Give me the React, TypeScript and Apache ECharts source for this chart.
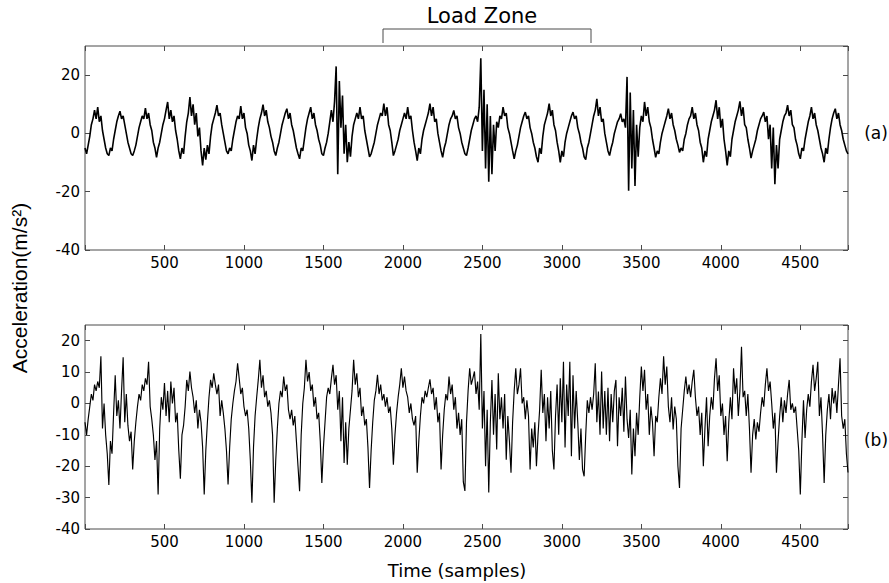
import React, { useEffect, useRef } from "react";
import * as echarts from "echarts";

// spacing (in samples) between the listed readings
const sampleStep = 10;

// Panel (a): acceleration readings, one every 10 samples from 0 to 4800
const accelA: number[] = [
  -5, -7, -4, -1, 3, 5, 8, 5, 9, 4, 6, 1, -2, -5, -7,
  -7.6, -5, -6, -2, 1, 4, 6, 7.6, 5, 6, 3, 0, -3, -5, -7,
  -7.6, -6, -4, -1, 2, 4, 6, 5, 8.7, 5, 7, 3, 1, -3, -5,
  -8.2, -5, -3, 0, 3, 5, 8, 10.8, 5, 8, 4, 6, 1, -2, -6,
  -8.7, -5, -7, -1, 4, 7, 12.5, 6, 10, 3, 7, -1, 2, -6, -11,
  -5, -9, -4, -7, -1, 3, 5, 7, 9.7, 6, 7, 3, 0, -3, -6,
  -7, -5, -6, -2, 1, 4, 6, 5, 9.4, 5, 7, 2, 0, -4, -6,
  -9.3, -4, -7, -2, 2, 5, 7, 9.9, 6, 8, 4, 2, -1, -3, -6,
  -7.6, -5, -3, 0, 3, 5, 7, 8.5, 5, 7, 3, 1, -2, -5, -7,
  -8.7, -5, -6, -2, 2, 5, 7, 9, 5, 7, 3, 1, -2, -4, -7,
  -7.6, -5, -3, 0, 4, 8, 4, 11, 23, -14, 18, 2, 13, -7, 3,
  -9.9, -3, -8, -1, 3, 5, 7, 5, 9, 5, 6, 1, -2, -5, -8,
  -7, -5, -3, 0, 3, 5, 7, 6, 10.2, 6, 9, 3, 1, -3, -7.6,
  -6, -4, -2, 1, 3, 5, 7, 5, 9, 5, 6, 1, -3, -6, -9.3,
  -5, -7, -2, 1, 3, 5, 7, 10.2, 6, 9, 4, 5, 0, -3, -6,
  -8.2, -5, -3, 0, 3, 5, 6, 7.9, 5, 6, 2, 0, -3, -5, -7,
  -7.6, -5, -2, 1, 3, 5, 6, 4, 9, 25.8, -6, 15, -12, 10, -16.6,
  6, -14, 3, -6, 4, 2, 6, 5, 9, 6, 7, 2, 0, -3, -6,
  -8.7, -6, -4, -1, 2, 4, 6, 7.3, 5, 6, 2, 0, -3, -5, -8,
  -9.9, -5, -7, -1, 3, 5, 7, 10.2, 6, 8, 3, 1, -3, -6, -9.9,
  -6, -8, -3, 0, 2, 4, 6, 7.3, 5, 6, 2, 0, -3, -5, -8,
  -9, -5, -3, 0, 3, 6, 8, 11.9, 6, 9, 4, 5, 0, -3, -6,
  -7.6, -5, -3, 0, 2, 4, 5, 6.8, 4, 5, 2, 19.4, -19.7, 14, -12,
  8, -18, 3, -8, 2, 6, 4, 10.8, 6, 9, 4, 2, -2, -5, -8.2,
  -6, -7, -3, 0, 2, 4, 6, 8.5, 5, 7, 3, 1, -2, -4, -6.5,
  -5, -6, -2, 0, 3, 5, 6, 9, 5, 7, 3, 1, -3, -5, -9.9,
  -6, -8, -2, 1, 4, 6, 8, 11.4, 5, 9, 2, 5, -2, -6, -11,
  -6, -8, -2, 1, 4, 6, 8, 11, 6, 9, 3, 2, -2, -5, -8.5,
  -6, -4, -2, 1, 3, 5, 6, 7.3, 4, 6, -2, 3, -12, 2, -17.4,
  -4, -12, -2, 1, 4, 6, 7, 9.7, 6, 8, 3, 2, -2, -4, -7,
  -8.7, -5, -6, -2, 1, 4, 6, 9, 5, 7, 3, 1, -2, -5, -7,
  -9.9, -5, -7, -2, 2, 5, 7, 8.5, 5, 7, 3, 1, -2, -4, -6,
  -7,
];

// Panel (b): acceleration readings, one every 10 samples from 0 to 4800
const accelB: number[] = [
  -6, -10, -5, -1, 3, 1, 6, 4, 7, 5, 15, -8, 0, -10, -16,
  -26, -12, -16, -3, 9, -4, 1, -8, 4, 14.7, -6, 3, -7, -12, -9,
  -21, -12, -6, -1, 3, 1, 6, 4, 8, 6, 13.3, -1, -5, -10, -18,
  -12, -29, -8, 2, -2, 6.5, -4, 4, -6, 7, 0, 5, -6, -3, -15,
  -24, -10, -7, -1, 7.5, 4, 10.2, 5, 2, -3, 1, -8, -2, -6, -14,
  -29, -15, -6, 2, 7.5, 5, 9.6, 6, 3, 6, -4, 1, -3, -8, -15,
  -25.8, -14, -5, 0, 4, 7, 12.8, 8, 3, 5, -1, -4, -2, -8, -18,
  -31.6, -14, -4, 2, 7.5, 13.9, 5, 9, 2, 4, -1, 1, -3, -10, -31.6,
  -18, -8, 0, 4, 2, 8.6, 4, 6, -2, -5, -2, -7, -4, -12, -20,
  -28, -10, 0, 5, 13.9, 7, 10, 4, 6, -1, 2, -5, -3, -12, -25.3,
  -14, -6, 2, 5, 3, 8, 12.3, 6, 9, -2, 4, -12, 2, -19, -6,
  -19.5, -8, -2, 4, 13.9, 6, 9.6, 2, 5, -4, -1, -7, -5, -14, -26.9,
  -15, -6, 1, 4, 9.1, 3, 6, 1, 3, -1, 2, -3, -1, -8, -19.5,
  -10, -3, 2, 6, 11.2, 5, 8.6, 4, 2, -3, 0, -5, -7, -4, -22.1,
  -12, -4, 2, 0, 4, 2, 5, 7.7, 3, 5, -2, 2, -6, -3, -21,
  -10, -2, 3, 1, 8.6, 3, 6, -2, 2, -8, -3, -10, -5, -25, -27.9,
  -6, 4, 11.2, 6, 8, 10.2, 3, 7, -2, 22.1, -8, 4, -20, -2, -28.4,
  -6, 7.5, -10, 3, -14.7, 9.6, -5, 2, -8, 3, -17.9, -4, -12, -22.1, -6,
  4, 11.2, 3, 6, 11.2, 0, 2, -5, 1, -4, -21, -8, -14, -6, -20,
  -10, -2, 10.7, -3, 3, -12, 2, -8, 4, -15, -21, -4, 6, -10, 8,
  -6, 13.3, -14, 6, -4, 13.3, -16.8, 9, -8, 4, -6, -18, -8, -21, -23.2,
  -10, 1, -3, 2, -2, 3, 12.8, -6, 3.8, -10, 10.2, -8, 4, -10, 5,
  -12, 3, -6, 4, 7.5, -13.6, 2, -4, 5, -9, 8.6, -5, -11, -2, -22.6,
  -8, -16.8, -3, -10, 2, 11.8, 4, 10.7, -2, 3, -10, -1, -6, -16.8, -4,
  -6, 2, 8, 3, 15, 6, 11.8, -1, -6, 2, -8.3, -1, -5, -20, -26.9,
  -8, -2, 4, 8.6, 3, 6, 2, 7, 10.7, 2, -4, -1, -10, -3, -20,
  -8, 2, -13.6, -4, 2, -2, 8, 14.4, 4, 9, -4, 0, -10, -4, -18.4,
  -6, 2, -5, 11.2, 3, 8, -4, 4, 18.1, 2, 4, -4, 3, -8, -22.1,
  -10, -5, -11.5, -6, -9, -3, 2, -1, 6, 11.2, 4, 7, 0, -8, -3,
  -22.1, -12, -4, 2, -6, 1, -3, 3, 7.5, -2, 0, -3, -1, -8, -15,
  -29, -12, 1, -11, -2, 3, -1, 7, 12.3, 4, 8, 13.3, -4, 2, -10,
  -25.3, -10, -2, 3, -5, 4.9, 0, 4, -3, 6, 14.4, -4, -8, -5, -16,
  -22,
];

const xMin = 0;
const xMax = 4800;
const xInterval = 500;
const yRangeA = { min: -40, max: 30, interval: 20 };
const yRangeB = { min: -40, max: 25, interval: 10 };

const tickFont = "DejaVu Sans";
const frameColor = "#4a4a4a";

export default function App() {
  const ref = useRef<HTMLDivElement>(null);

  useEffect(() => {
    if (!ref.current) return;
    const chart = echarts.init(ref.current, null, { renderer: "svg" });

    const toPairs = (arr: number[]) => arr.map((v, i) => [i * sampleStep, v]);

    const xLabelFmt = (v: number) =>
      v > xMin && v < xMax && v % xInterval === 0 ? String(v) : "";

    const baseTick = { show: true, inside: true, length: 5, lineStyle: { color: frameColor, width: 1 } };

    const makeX = (gridIndex: number, position: "top" | "bottom", labels: boolean) => ({
      type: "value",
      gridIndex,
      position,
      min: xMin,
      max: xMax,
      interval: xInterval,
      axisLine: { show: false, onZero: false },
      axisTick: baseTick,
      splitLine: { show: false },
      axisLabel: labels
        ? { show: true, color: "#000", fontFamily: tickFont, fontSize: 15, margin: 5, formatter: xLabelFmt }
        : { show: false },
    });

    const makeY = (gridIndex: number, position: "left" | "right", labels: boolean, r: any) => ({
      type: "value",
      gridIndex,
      position,
      min: r.min,
      max: r.max,
      interval: r.interval,
      axisLine: { show: false, onZero: false },
      axisTick: baseTick,
      splitLine: { show: false },
      axisLabel: labels
        ? { show: true, color: "#000", fontFamily: tickFont, fontSize: 15, margin: 5, showMaxLabel: false }
        : { show: false },
    });

    const option: any = {
      animation: false,
      backgroundColor: "#fff",
      grid: [
        { left: 85, top: 46, width: 763, height: 204, show: true, borderColor: frameColor, borderWidth: 1, backgroundColor: "transparent" },
        { left: 85, top: 325, width: 763, height: 204, show: true, borderColor: frameColor, borderWidth: 1, backgroundColor: "transparent" },
      ],
      xAxis: [
        makeX(0, "bottom", true),
        makeX(0, "top", false),
        makeX(1, "bottom", true),
        makeX(1, "top", false),
      ],
      yAxis: [
        makeY(0, "left", true, yRangeA),
        makeY(0, "right", false, yRangeA),
        makeY(1, "left", true, yRangeB),
        makeY(1, "right", false, yRangeB),
      ],
      series: [
        {
          type: "line",
          xAxisIndex: 0,
          yAxisIndex: 0,
          data: toPairs(accelA),
          showSymbol: false,
          silent: true,
          lineStyle: { color: "#000", width: 1.6 },
        },
        {
          type: "line",
          xAxisIndex: 2,
          yAxisIndex: 2,
          data: toPairs(accelB),
          showSymbol: false,
          silent: true,
          lineStyle: { color: "#000", width: 1.15 },
        },
      ],
      graphic: [
        {
          type: "polyline",
          shape: { points: [[383, 43], [383, 29], [591, 29], [591, 43]] },
          style: { stroke: frameColor, lineWidth: 1, fill: "none" },
          silent: true,
        },
        {
          type: "text",
          x: 482,
          y: 16,
          style: { text: "Load Zone", fontFamily: "DejaVu Sans", fontSize: 21, fill: "#000", align: "center", verticalAlign: "middle" },
        },
        {
          type: "text",
          x: 876,
          y: 133,
          style: { text: "(a)", fontFamily: "DejaVu Sans", fontSize: 17, fill: "#000", align: "center", verticalAlign: "middle" },
        },
        {
          type: "text",
          x: 876,
          y: 440,
          style: { text: "(b)", fontFamily: "DejaVu Sans", fontSize: 17, fill: "#000", align: "center", verticalAlign: "middle" },
        },
        {
          type: "text",
          x: 457,
          y: 570,
          style: { text: "Time (samples)", fontFamily: "DejaVu Sans", fontSize: 18, fill: "#000", align: "center", verticalAlign: "middle" },
        },
        {
          type: "text",
          x: 19,
          y: 288,
          rotation: Math.PI / 2,
          style: { text: "Acceleration(m/s²)", fontFamily: "Liberation Sans", fontSize: 21, fill: "#000", align: "center", verticalAlign: "middle" },
        },
      ],
    };

    chart.setOption(option);
    return () => chart.dispose();
  }, []);

  return <div ref={ref} style={{ position: "absolute", left: 0, top: 0, width: 889, height: 583 }} />;
}
